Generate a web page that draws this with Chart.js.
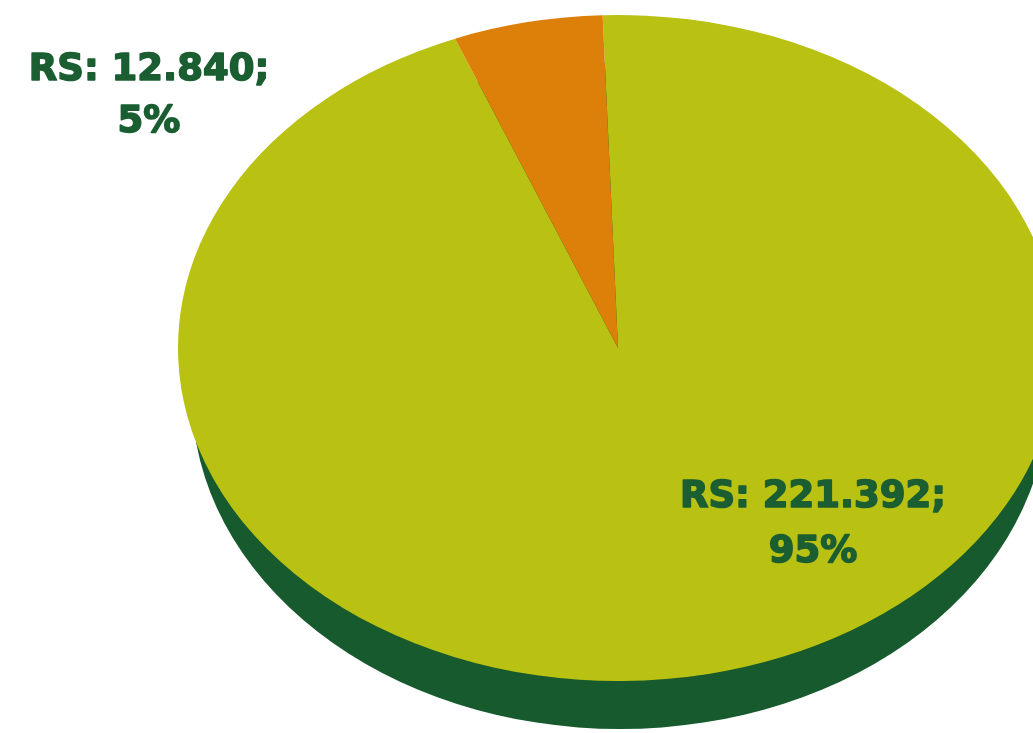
<!DOCTYPE html>
<html>
<head>
<meta charset="utf-8">
<script src="https://cdn.jsdelivr.net/npm/chart.js@4/dist/chart.umd.min.js"></script>
<style>
html,body{margin:0;padding:0;background:#ffffff;overflow:hidden}
#wrap{width:1033px;height:733px;position:relative}
</style>
</head>
<body>
<div id="wrap"><canvas id="c" width="1033" height="733"></canvas></div>
<script>
// ---- data ----
const categories = ["RS", "RS"];
const values = [221392, 12840];
const sliceColors = ["#b9c112", "#dd800a"];

// ---- helpers ----
const total = values.reduce((a, b) => a + b, 0);
function fmt(n) { return String(n).replace(/\B(?=(\d{3})+(?!\d))/g, "."); }
const valueLabels = values.map(v => fmt(v));
const pctLabels = values.map(v => Math.round(v / total * 100) + "%");

// ellipse geometry of the tilted pie (layout)
const CX = 618, CY = 348, RX = 440, RY = 333;
const DEPTH = 48, SIDE_COLOR = "#165a2d";
const TEXT_COLOR = "#1a5e32";
const FONT = "bold 37px 'DejaVu Sans'";
const labelPos = [
  { x: 813, y1: 507, y2: 562 },
  { x: 149, y1: 80, y2: 132 }
];

const pie3d = {
  id: "pie3d",
  beforeDatasetsDraw(chart) {
    const ctx = chart.ctx;
    const arc = chart.getDatasetMeta(0).data[0];
    const R = arc.outerRadius;
    ctx.save();
    ctx.fillStyle = SIDE_COLOR;
    ctx.beginPath();
    ctx.ellipse(CX + 2, CY + DEPTH, RX - 12, RY, 0, 0, Math.PI * 2);
    ctx.fill();
    ctx.restore();
    ctx.save();
    ctx.translate(CX, CY);
    ctx.scale(RX / R, RY / R);
    ctx.translate(-arc.x, -arc.y);
  },
  afterDatasetsDraw(chart) {
    chart.ctx.restore();
  },
  afterDraw(chart) {
    const ctx = chart.ctx;
    ctx.save();
    ctx.fillStyle = TEXT_COLOR;
    ctx.strokeStyle = TEXT_COLOR;
    ctx.lineWidth = 1.6;
    ctx.lineJoin = "round";
    ctx.font = FONT;
    ctx.textAlign = "center";
    ctx.textBaseline = "alphabetic";
    values.forEach((v, i) => {
      const p = labelPos[i];
      const l1 = categories[i] + ": " + valueLabels[i] + ";";
      ctx.fillText(l1, p.x, p.y1);
      ctx.strokeText(l1, p.x, p.y1);
      ctx.fillText(pctLabels[i], p.x, p.y2);
      ctx.strokeText(pctLabels[i], p.x, p.y2);
    });
    ctx.restore();
  }
};

new Chart(document.getElementById("c"), {
  type: "pie",
  data: {
    labels: categories,
    datasets: [{
      data: values,
      backgroundColor: sliceColors,
      borderWidth: 0,
      clip: false
    }]
  },
  options: {
    responsive: false,
    animation: false,
    rotation: -2,
    layout: { padding: 0 },
    plugins: {
      legend: { display: false },
      tooltip: { enabled: false }
    }
  },
  plugins: [pie3d]
});
</script>
</body>
</html>
